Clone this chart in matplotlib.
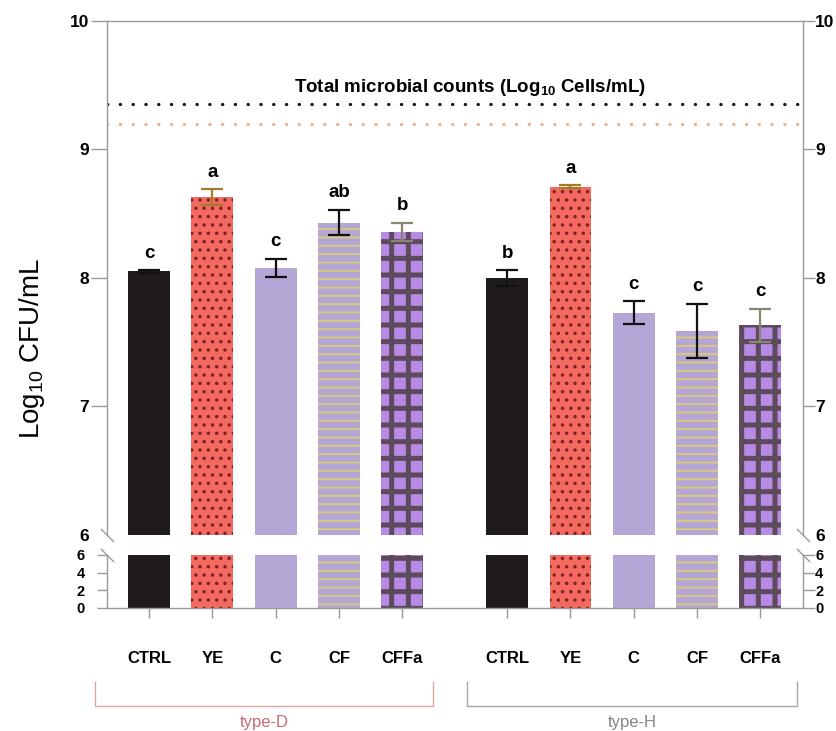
import matplotlib.pyplot as plt
import numpy as np
from matplotlib.lines import Line2D
from matplotlib.transforms import blended_transform_factory

plt.rcParams['font.family'] = ['Liberation Sans', 'DejaVu Sans']
plt.rcParams['mathtext.fontset'] = 'custom'
plt.rcParams['mathtext.rm'] = 'Liberation Sans'
plt.rcParams['mathtext.bf'] = 'Liberation Sans:bold'

# données : log10 UFC/mL, deux types de levain
treatments = ['CTRL', 'YE', 'C', 'CF', 'CFFa']
groups = ['type-D', 'type-H']
mean_d = [8.05, 8.63, 8.08, 8.43, 8.36]
err_d = [0.01, 0.06, 0.07, 0.10, 0.07]
letters_d = ['c', 'a', 'c', 'ab', 'b']
mean_h = [8.00, 8.71, 7.73, 7.59, 7.63]
err_h = [0.06, 0.01, 0.09, 0.21, 0.13]
letters_h = ['b', 'a', 'c', 'c', 'c']
total_black = 9.35   # comptage total (ligne noire)
total_orange = 9.20  # comptage total (ligne orange)

# style des barres par traitement
face = ['#1f1b1c', '#f46a60', '#b4a7d6', '#b4a7d6', '#b58be6']
hatches = [None, '..', None, '--', '+']
hatch_col = ['#1f1b1c', '#7c2424', '#b4a7d6', '#d9c97c', '#5d4a5b']
hatch_lw = [1, 1.3, 1, 1.4, 3.6]
err_col = ['#111111', '#a37b2a', '#111111', '#111111', '#8a8472']

pos_d = np.arange(5)
pos_h = np.arange(5) + 5.66
width = 0.66
grey = '#9a9a9a'

fig = plt.figure(figsize=(8.37, 7.31), dpi=100)
ax = fig.add_axes([0.1275, 0.2681, 0.8315, 0.7036])
axb = fig.add_axes([0.1275, 0.1683, 0.8315, 0.0725])


def draw_bars(a, x, vals):
    for xi, v, fc, h, hc, hl in zip(x, vals, face, hatches, hatch_col, hatch_lw):
        with plt.rc_context({'hatch.linewidth': hl}):
            b = a.bar(xi, v, width=width, color=fc, edgecolor=hc, linewidth=0, hatch=h)
        p = b.patches[0]
        if hasattr(p, 'set_hatch_linewidth'):
            p.set_hatch_linewidth(hl)


for a in (ax, axb):
    draw_bars(a, pos_d, mean_d)
    draw_bars(a, pos_h, mean_h)
    a.set_xlim(-0.67, 10.33)

# barres d'erreur et lettres
for x, vals, errs, lets in [(pos_d, mean_d, err_d, letters_d), (pos_h, mean_h, err_h, letters_h)]:
    for xi, v, e, l, c in zip(x, vals, errs, lets, err_col):
        ax.errorbar(xi, v, yerr=e, fmt='none', ecolor=c, elinewidth=1.6, capsize=8, capthick=1.6)
        ax.text(xi, v + e + 0.065, l, ha='center', va='bottom', fontsize=13.5, fontweight='bold')

# lignes pointillées du comptage total
ax.axhline(total_black, color='#141414', lw=2.3, linestyle=(0, (0.1, 3.9)), dash_capstyle='round')
ax.axhline(total_orange, color='#f2b085', lw=2.3, linestyle=(0, (0.1, 3.9)), dash_capstyle='round')
ax.text(0.522, 9.48, r'Total microbial counts (Log$_{\mathbf{10}}$ Cells/mL)',
        transform=blended_transform_factory(ax.transAxes, ax.transData),
        ha='center', va='center', fontsize=13.5, fontweight='bold')


def style_axis(a, left_len, right_len, left_pad, right_pad, ticks, labels, ylim, spines, size):
    a.set_ylim(*ylim)
    a.set_yticks(ticks)
    a.set_yticklabels(labels)
    for s in a.spines:
        a.spines[s].set_visible(s in spines)
        a.spines[s].set_color(grey)
        a.spines[s].set_linewidth(1.0)
    a.tick_params(axis='y', left=True, right=False, labelleft=True, labelright=False,
                  direction='out', length=left_len, width=1.0, color=grey, pad=left_pad,
                  labelsize=size)
    for lab in a.get_yticklabels():
        lab.set_fontweight('bold')
    # axe jumeau pour les graduations de droite
    r = a.twinx()
    r.set_ylim(*ylim)
    r.set_yticks(ticks)
    r.set_yticklabels(labels)
    for s in r.spines:
        r.spines[s].set_visible(s == 'right')
        r.spines[s].set_color(grey)
        r.spines[s].set_linewidth(1.0)
    r.tick_params(axis='y', direction='out', length=right_len, width=1.0, color=grey,
                  pad=right_pad, labelsize=size)
    for lab in r.get_yticklabels():
        lab.set_fontweight('bold')
    return r


# axe du haut
ax.set_xticks([])
axr = style_axis(ax, 11.5, 8.6, 1, 0.5, [6, 7, 8, 9, 10], ['6', '7', '8', '9', '10'],
                 (6, 10), ['top', 'left'], 12.5)
ax.yaxis.get_major_ticks()[0].tick1line.set_visible(False)
axr.yaxis.get_major_ticks()[0].tick2line.set_visible(False)

# axe du bas
axb.set_xticks(np.concatenate([pos_d, pos_h]))
axb.set_xticklabels(treatments + treatments)
axbr = style_axis(axb, 7.2, 8.6, 8.5, 0.3, [0, 2, 4, 6], ['0', '2', '4', '6'],
                  (0, 6), ['bottom', 'left'], 10.5)
axb.tick_params(axis='x', direction='out', length=7, width=1.0, color=grey, pad=24, labelsize=12)
for lab in axb.get_xticklabels():
    lab.set_fontweight('bold')

# marques de coupure
brk = dict(marker=[(-1, 1), (1, -1)], markersize=9.5, linestyle='none', color=grey,
           mec=grey, mew=1.0, clip_on=False)
ax.plot([0, 1], [0, 0], transform=ax.transAxes, **brk)
axb.plot([0, 1], [1, 1], transform=axb.transAxes, **brk)

# titre de l'axe y
fig.text(0.038, 1 - 348 / 731, r'Log$_{10}$ CFU/mL', rotation=90, ha='center', va='center',
         fontsize=20)

# accolades des groupes
tr = blended_transform_factory(axb.transData, fig.transFigure)
y_low, y_high, y_txt = 1 - 706 / 731, 1 - 682 / 731, 1 - 722 / 731
bracket_pad = [(0.85, 0.48), (0.64, 0.58)]
for pos, name, (pl, pr), lc, tc in [(pos_d, groups[0], bracket_pad[0], '#dca4a4', '#c46c6c'),
                                    (pos_h, groups[1], bracket_pad[1], '#a8a8a8', '#858585')]:
    x0, x1 = pos[0] - pl, pos[-1] + pr
    fig.add_artist(Line2D([x0, x0, x1, x1], [y_high, y_low, y_low, y_high], transform=tr,
                          color=lc, lw=1.0))
    fig.text((x0 + x1) / 2, y_txt, name, transform=tr, ha='center', va='center',
             fontsize=12, color=tc)

fig.savefig('out.png', dpi=100)
